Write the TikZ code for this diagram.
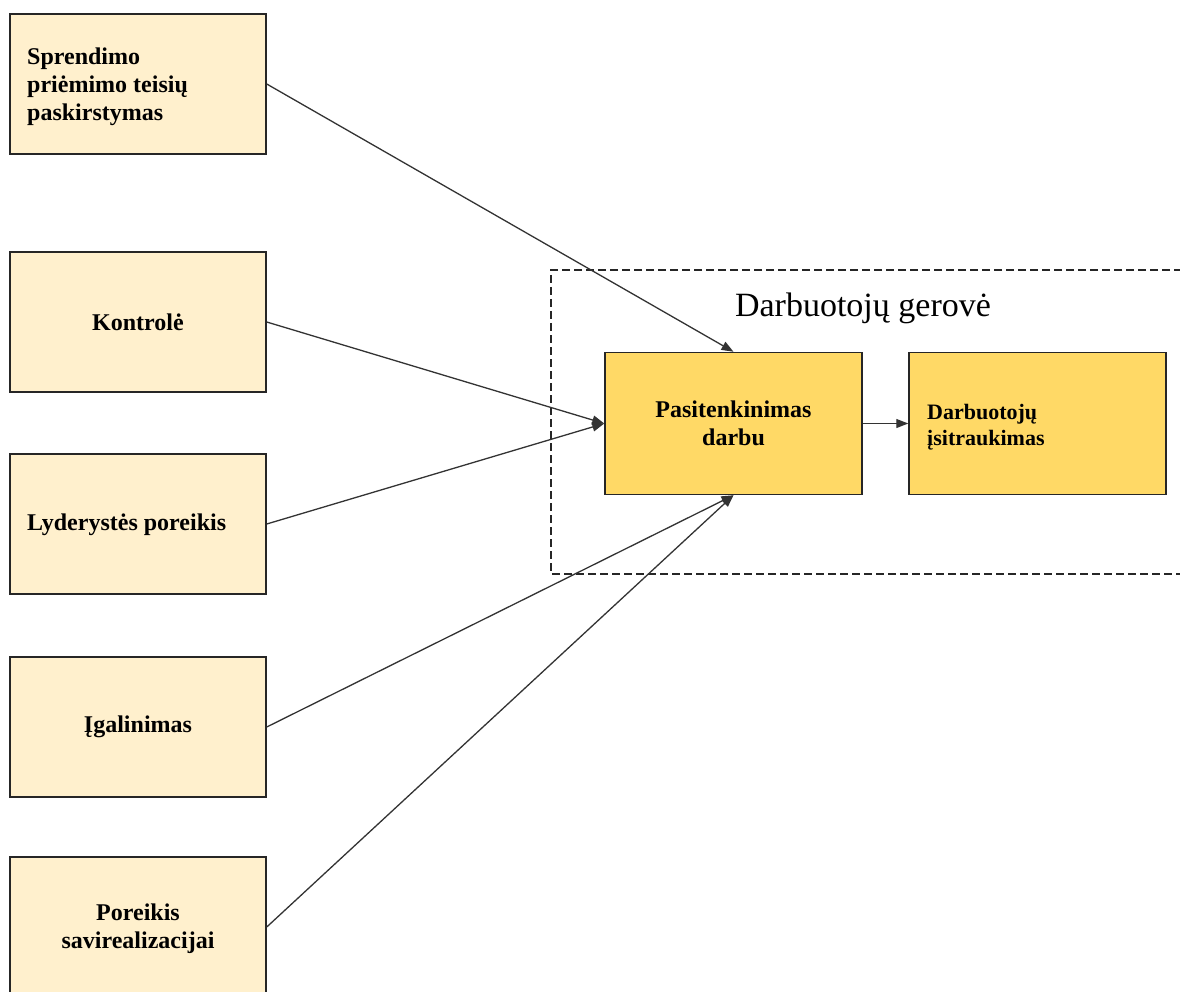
\documentclass[tikz,border=0pt]{standalone}
\usepackage{fontspec}
\setmainfont{Liberation Serif}
\usetikzlibrary{arrows.meta}
\definecolor{paleyellow}{HTML}{FFF0CD}
\definecolor{gold}{HTML}{FFD966}
\begin{document}
\begin{tikzpicture}[x=1pt,y=-1pt,
  boxfont/.style={font=\fontsize{24}{28}\selectfont\bfseries},
  factor/.style={draw=black!85,line width=1.5pt,fill=paleyellow,minimum width=256pt,minimum height=140pt,inner sep=0pt,boxfont},
  outcome/.style={draw=black!85,line width=1.5pt,fill=gold,minimum width=257pt,minimum height=142pt,inner sep=0pt,boxfont},
  link/.style={draw=black!80,line width=1.3pt,-{Triangle[length=12pt,width=9pt]}}]
\useasboundingbox (0,0) rectangle (1180,992);
% factor boxes on the left
\node[factor] (f1) at (138,84) {};
\node[anchor=west,align=left,inner sep=0pt,boxfont] (t1) at (27,87) {Sprendimo\\priėmimo teisių\\paskirstymas};
\node[factor] (f2) at (138,322) {Kontrolė};
\node[factor] (f3) at (138,524) {};
\node[anchor=west,inner sep=0pt,boxfont] (t3) at (27,525) {Lyderystės poreikis};
\node[factor] (f4) at (138,727) {Įgalinimas};
\node[factor] (f5) at (138,927) {};
\node[align=center,boxfont] (t5) at (138,929) {Poreikis\\savirealizacijai};
% wellbeing frame
\draw[black!85,line width=1.3pt,dash pattern=on 8pt off 4pt] (1182,270) -- (551,270) -- (551,574) -- (1182,574);
\node[font=\fontsize{34}{40}\selectfont] (title) at (863,308) {Darbuotojų gerovė};
% outcome boxes
\node[outcome,align=center] (sat) at (733.5,423.5) {Pasitenkinimas\\darbu};
\node[outcome] (eng) at (1037.5,423.5) {};
\node[anchor=west,align=left,inner sep=0pt,font=\fontsize{22}{26}\selectfont\bfseries] (t6) at (927,427) {Darbuotojų\\įsitraukimas};
% connectors
\draw[link] (f1.east |- 0,84) -- (sat.north);
\draw[link] (f2.east) -- (sat.west);
\draw[link] (f3.east) -- (sat.west);
\draw[link] (f4.east) -- (sat.south);
\draw[link] (f5.east) -- (sat.south);
\draw[link] (sat.east) -- (eng.west);
\end{tikzpicture}
\end{document}
